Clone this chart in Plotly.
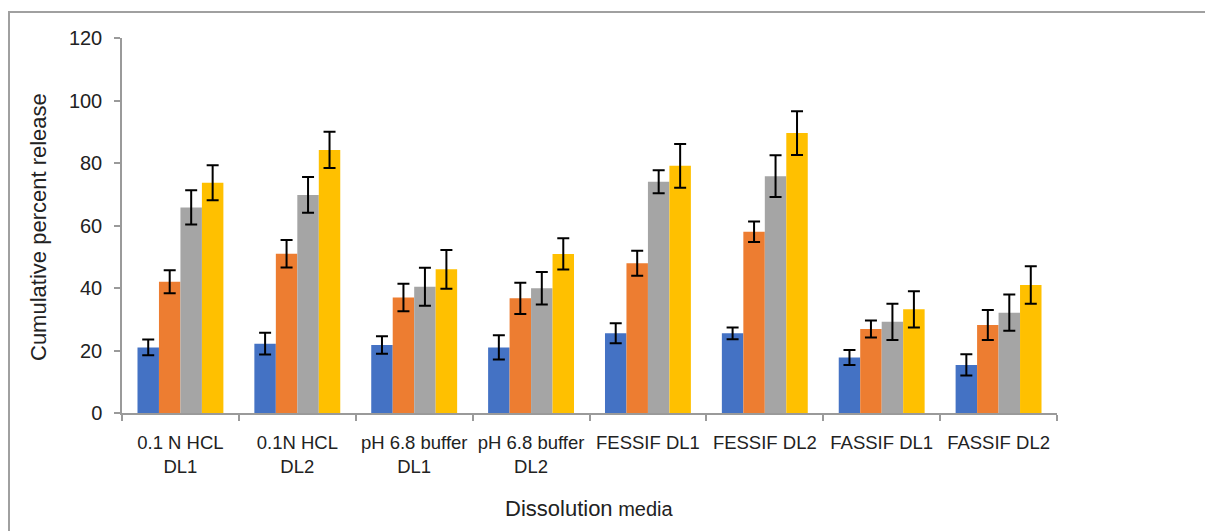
import plotly.graph_objects as go

categories = ["0.1 N HCL<br>DL1", "0.1N HCL<br>DL2", "pH 6.8 buffer<br>DL1", "pH 6.8 buffer<br>DL2",
              "FESSIF DL1", "FESSIF DL2", "FASSIF DL1", "FASSIF DL2"]

series1 = [21.0, 22.2, 21.8, 21.0, 25.5, 25.5, 17.8, 15.4]
series2 = [42.0, 51.0, 37.0, 36.7, 47.9, 58.0, 26.9, 28.2]
series3 = [65.8, 69.8, 40.4, 39.9, 74.0, 75.8, 29.2, 32.1]
series4 = [73.7, 84.2, 46.0, 50.9, 79.1, 89.6, 33.2, 41.0]

err1 = [2.5, 3.5, 2.8, 3.9, 3.2, 1.9, 2.4, 3.4]
err2 = [3.7, 4.4, 4.4, 5.0, 4.0, 3.3, 2.7, 4.8]
err3 = [5.5, 5.7, 6.1, 5.2, 3.7, 6.7, 5.8, 5.8]
err4 = [5.6, 5.8, 6.2, 5.0, 7.0, 7.0, 5.8, 6.0]

series_names = ["Series 1", "Series 2", "Series 3", "Series 4"]
colors = ["#4472C4", "#ED7D31", "#A5A5A5", "#FFC000"]

fig = go.Figure()
for name, vals, errs, col in zip(series_names, [series1, series2, series3, series4],
                                 [err1, err2, err3, err4], colors):
    fig.add_trace(go.Bar(
        x=categories, y=vals, name=name, marker=dict(color=col, line=dict(width=0)),
        error_y=dict(type="data", array=errs, visible=True, color="black", thickness=2, width=6),
        showlegend=False,
    ))

# page has an 8px body margin: figure coordinates = page coordinates - 8
OFF = 8
W, H = 1213 - OFF, 531 - OFF
L, R, T, B = 122 - OFF, 1057 - OFF, 38 - OFF, 413 - OFF
pw, ph = R - L, B - T

def px_x(x):
    return (x - OFF - L) / pw

def px_y(y):
    return (B - (y - OFF)) / ph

font_family = "Liberation Sans, Arial, sans-serif"
txt = "#222222"

fig.update_layout(
    width=W, height=H,
    margin=dict(l=L, r=W - R, t=T, b=H - B, pad=0),
    paper_bgcolor="white", plot_bgcolor="white",
    barmode="group", bargap=0.265, bargroupgap=0,
    font=dict(family=font_family, color=txt, size=18),
    xaxis=dict(
        showline=True, linecolor="#9a9a9a", linewidth=1.5,
        ticks="outside", tickson="boundaries", ticklen=6, tickcolor="#9a9a9a", tickwidth=1.5,
        showgrid=False, tickfont=dict(size=18.5, color=txt), ticklabelstandoff=12,
    ),
    yaxis=dict(
        range=[0, 120], tickvals=[0, 20, 40, 60, 80, 100, 120],
        showline=True, linecolor="#9a9a9a", linewidth=1.5,
        ticks="outside", ticklen=6, tickcolor="#9a9a9a", tickwidth=1.5,
        showgrid=False, zeroline=False, tickfont=dict(size=20, color=txt),
        ticklabelstandoff=8,
    ),
    annotations=[
        dict(text="Cumulative percent release", xref="paper", yref="paper",
             x=px_x(38), y=px_y(227), xanchor="center", yanchor="middle", textangle=-90,
             showarrow=False, font=dict(size=22, color=txt)),
        dict(text="Dissolution<span style='font-size:20px'> media</span>", xref="paper", yref="paper",
             x=px_x(589), y=px_y(508), xanchor="center", yanchor="middle",
             showarrow=False, font=dict(size=22, color=txt)),
    ],
    shapes=[
        dict(type="rect", xref="paper", yref="paper",
             x0=px_x(9), y0=px_y(580), x1=px_x(1260), y1=px_y(12),
             line=dict(color="#a0a0a0", width=2), fillcolor="rgba(0,0,0,0)", layer="below"),
    ],
)

fig.write_html("out.html")
